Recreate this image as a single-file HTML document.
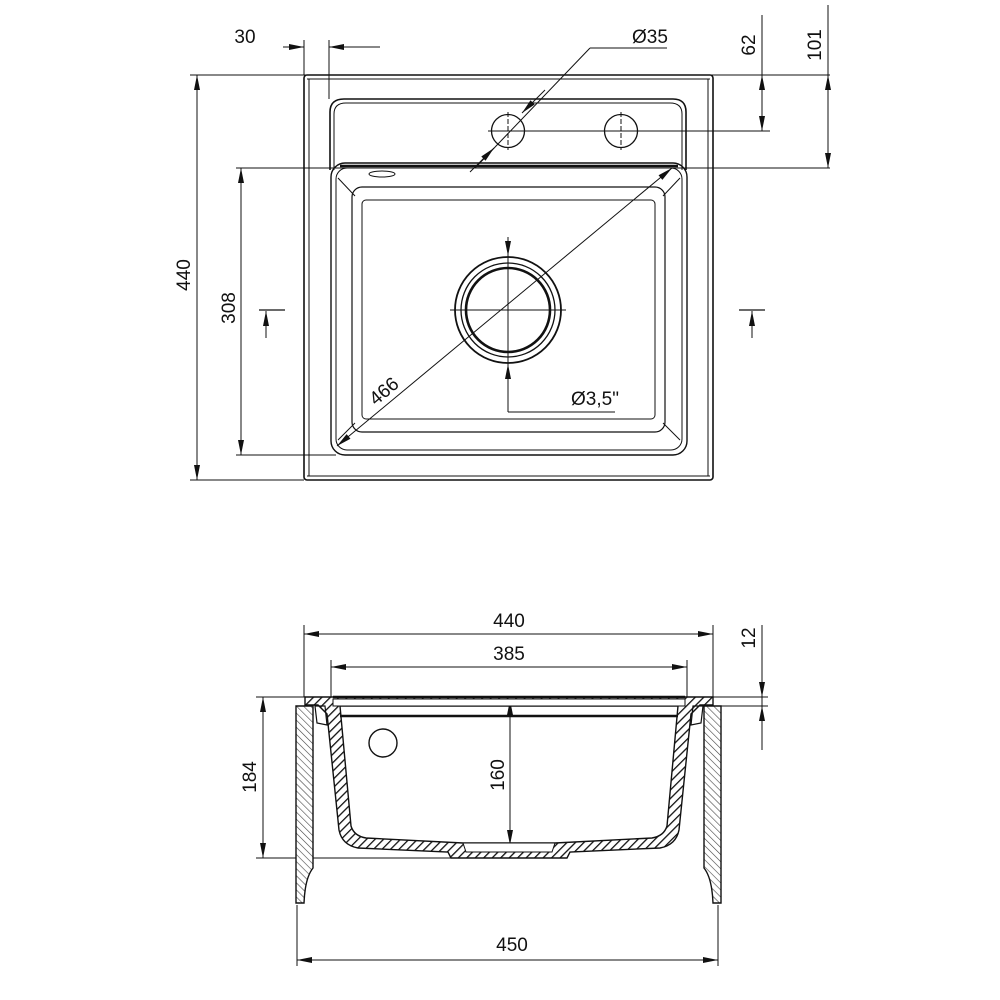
<!DOCTYPE html>
<html><head><meta charset="utf-8"><style>
html,body{margin:0;padding:0;background:#fff}
svg{display:block}
text{font-family:"Liberation Sans",sans-serif;font-size:19px;fill:#111}
</style></head><body>
<svg width="1000" height="1000" viewBox="0 0 1000 1000" xmlns="http://www.w3.org/2000/svg">
<defs>
<pattern id="h" width="6" height="6" patternUnits="userSpaceOnUse" patternTransform="rotate(45)"><rect width="6" height="6" fill="#fff"/><line x1="0" y1="0" x2="0" y2="6" stroke="#111" stroke-width="2.6"/></pattern>
<pattern id="h2" width="5" height="5" patternUnits="userSpaceOnUse" patternTransform="rotate(-45)"><rect width="5" height="5" fill="#fff"/><line x1="0" y1="0" x2="0" y2="5" stroke="#444" stroke-width="1.2"/></pattern>
<marker id="a" viewBox="0 0 10 4" refX="10" refY="2" markerWidth="18" markerHeight="6" markerUnits="userSpaceOnUse" orient="auto-start-reverse"><path d="M0,0L10,2L0,4Z" fill="#111"/></marker>
</defs>
<g fill="none" stroke="#111" stroke-width="1">
<line x1="304" y1="40" x2="304" y2="75"/>
<line x1="329" y1="40" x2="329" y2="99"/>
<line x1="190" y1="75" x2="830" y2="75"/>
<line x1="190" y1="480" x2="304" y2="480"/>
<line x1="236" y1="168" x2="830" y2="168"/>
<line x1="236" y1="455" x2="336" y2="455"/>
<line x1="520" y1="131" x2="770" y2="131"/>
<line x1="283" y1="47" x2="304" y2="47" marker-end="url(#a)"/>
<line x1="380" y1="47" x2="329" y2="47" marker-end="url(#a)"/>
<line x1="197" y1="75" x2="197" y2="480" marker-start="url(#a)" marker-end="url(#a)"/>
<line x1="241" y1="168" x2="241" y2="455" marker-start="url(#a)" marker-end="url(#a)"/>
<line x1="762" y1="15" x2="762" y2="131"/>
<line x1="762" y1="75" x2="762" y2="131" marker-start="url(#a)" marker-end="url(#a)"/>
<line x1="828" y1="5" x2="828" y2="168"/>
<line x1="828" y1="75" x2="828" y2="168" marker-start="url(#a)" marker-end="url(#a)"/>
<line x1="667" y1="48" x2="590" y2="48"/>
<line x1="590" y1="48" x2="475" y2="168"/>
<path d="M545,90L522,113" marker-end="url(#a)"/>
<path d="M470,172L494,148" marker-end="url(#a)"/>
<line x1="337" y1="446" x2="672" y2="168" marker-start="url(#a)" marker-end="url(#a)"/>
<rect x="304" y="75" width="409" height="405" rx="3" stroke-width="1.6"/>
<line x1="309" y1="79" x2="309" y2="476"/><line x1="708" y1="79" x2="708" y2="476"/>
<line x1="307" y1="79" x2="710" y2="79"/><line x1="307" y1="476" x2="710" y2="476"/>
<path d="M330,170 L330,112 Q330,99 344,99 L673,99 Q686,99 686,112 L686,170" stroke-width="1.6"/>
<path d="M334,170 L334,114 Q334,103 346,103 L670,103 Q682,103 682,114 L682,170"/>
<circle cx="508" cy="131" r="16.5" stroke-width="1.3"/>
<circle cx="621" cy="131" r="16.5" stroke-width="1.3"/>
<line x1="508" y1="112" x2="508" y2="150" stroke-dasharray="5 2"/>
<line x1="621" y1="112" x2="621" y2="150" stroke-dasharray="5 2"/>
<line x1="488" y1="131" x2="528" y2="131"/>
<rect x="331" y="163" width="356" height="292" rx="14" stroke-width="1.4"/>
<rect x="336" y="168" width="346" height="282" rx="11"/>
<line x1="340" y1="166" x2="678" y2="166" stroke-width="2.5"/>
<ellipse cx="382" cy="174" rx="13" ry="3"/>
<rect x="352" y="187" width="313" height="245" rx="10" stroke-width="1.2"/>
<rect x="362" y="200" width="293" height="219" rx="4"/>
<line x1="338" y1="178" x2="355" y2="196"/><line x1="680" y1="178" x2="663" y2="196"/>
<line x1="338" y1="440" x2="355" y2="423"/><line x1="680" y1="440" x2="663" y2="423"/>
<circle cx="508" cy="310" r="53" stroke-width="1.8"/>
<circle cx="508" cy="310" r="47" stroke-width="1.3"/>
<circle cx="508" cy="310" r="42" stroke-width="2.6"/>
<line x1="450" y1="310" x2="566" y2="310"/>
<line x1="508" y1="237" x2="508" y2="256" marker-end="url(#a)"/>
<line x1="508" y1="412" x2="508" y2="364" marker-end="url(#a)"/>
<line x1="508" y1="256" x2="508" y2="364"/>
<line x1="508" y1="412" x2="615" y2="412"/>
<line x1="259" y1="310" x2="285" y2="310" stroke-width="1.3"/>
<line x1="266" y1="338" x2="266" y2="311" marker-end="url(#a)"/>
<line x1="739" y1="310" x2="765" y2="310" stroke-width="1.3"/>
<line x1="752" y1="338" x2="752" y2="311" marker-end="url(#a)"/>

<line x1="304" y1="625" x2="304" y2="697"/><line x1="713" y1="625" x2="713" y2="697"/>
<line x1="331" y1="660" x2="331" y2="697"/><line x1="687" y1="660" x2="687" y2="697"/>
<line x1="304" y1="634" x2="713" y2="634" marker-start="url(#a)" marker-end="url(#a)"/>
<line x1="331" y1="667" x2="687" y2="667" marker-start="url(#a)" marker-end="url(#a)"/>
<line x1="713" y1="697" x2="768" y2="697"/><line x1="716" y1="706" x2="768" y2="706"/>
<line x1="762" y1="625" x2="762" y2="750"/>
<line x1="762" y1="678" x2="762" y2="697" marker-end="url(#a)"/>
<line x1="762" y1="725" x2="762" y2="706" marker-end="url(#a)"/>
<line x1="256" y1="697" x2="305" y2="697"/><line x1="256" y1="858" x2="470" y2="858"/>
<line x1="263" y1="697" x2="263" y2="858" marker-start="url(#a)" marker-end="url(#a)"/>
<line x1="510" y1="700" x2="510" y2="845" marker-start="url(#a)" marker-end="url(#a)"/>
<line x1="297" y1="905" x2="297" y2="966"/><line x1="718" y1="905" x2="718" y2="966"/>
<line x1="297" y1="960" x2="718" y2="960" marker-start="url(#a)" marker-end="url(#a)"/>
</g>
<g stroke="#111" stroke-width="1.4">
<path fill="url(#h2)" d="M296,706 L313,706 L313,868 Q305,878 304,903 L296,903 Z"/>
<path fill="url(#h2)" d="M721,706 L704,706 L704,868 Q712,878 713,903 L721,903 Z"/>
<path fill="url(#h)" fill-rule="evenodd" d="M305,697 L713,697 L713,705 L700,705 L691,714 L679,830 Q676,845 660,848 L570,852 L567,858 L451,858 L448,852 L358,848 Q342,845 339,830 L327,714 L318,705 L305,705 Z
M340,706 L678,706 L667,826 Q664,836 652,838 L555,843 L463,843 L366,838 Q354,836 351,826 Z"/>
<path fill="#fff" d="M333,699 L685,699 L685,706 L333,706 Z" stroke-width="1"/>
<line x1="333" y1="697" x2="685" y2="697" stroke-width="2.5"/>
<path fill="#fff" d="M463,843 L555,843 L552,852 L466,852 Z" stroke-width="1"/>
<path fill="none" d="M315,706 L325,706 L327,725 L317,723 Z" stroke-width="1.2"/>
<path fill="none" d="M703,706 L693,706 L691,725 L701,723 Z" stroke-width="1.2"/>
<line x1="340" y1="716" x2="678" y2="716" stroke-width="2.5"/>
<circle cx="383" cy="743" r="14" fill="none"/>
</g>
<text x="245" y="43" text-anchor="middle">30</text>
<text x="650" y="43" text-anchor="middle">Ø35</text>
<text transform="translate(755,45) rotate(-90)" text-anchor="middle">62</text>
<text transform="translate(821,45) rotate(-90)" text-anchor="middle">101</text>
<text transform="translate(190,275) rotate(-90)" text-anchor="middle">440</text>
<text transform="translate(235,308) rotate(-90)" text-anchor="middle">308</text>
<text transform="translate(388,396) rotate(-40)" text-anchor="middle">466</text>
<text x="595" y="405" text-anchor="middle">Ø3,5"</text>
<text x="509" y="627" text-anchor="middle">440</text>
<text x="509" y="660" text-anchor="middle">385</text>
<text transform="translate(755,638) rotate(-90)" text-anchor="middle">12</text>
<text transform="translate(256,777) rotate(-90)" text-anchor="middle">184</text>
<text transform="translate(504,775) rotate(-90)" text-anchor="middle">160</text>
<text x="512" y="951" text-anchor="middle">450</text>
</svg>
</body></html>
